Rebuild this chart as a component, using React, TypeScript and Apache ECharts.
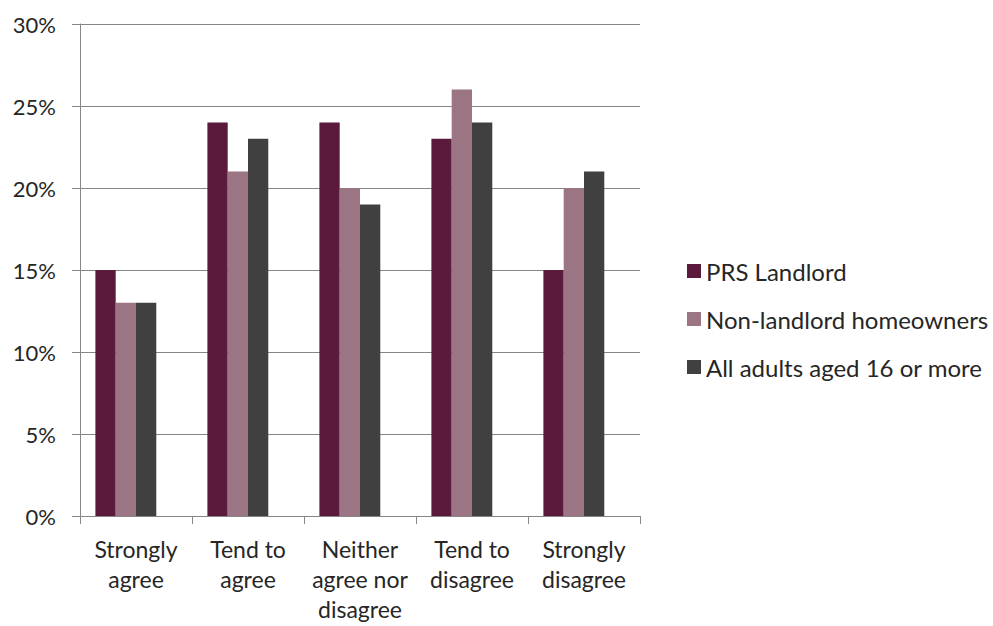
import React, { useEffect, useRef } from "react";
import * as echarts from "echarts";

const categories = ["Strongly\nagree", "Tend to\nagree", "Neither\nagree nor\ndisagree", "Tend to\ndisagree", "Strongly\ndisagree"];
const seriesNames = ["PRS Landlord", "Non-landlord homeowners", "All adults aged 16 or more"];
const prsLandlord = [15, 24, 24, 23, 15];
const nonLandlord = [13, 21, 20, 26, 20];
const allAdults = [13, 23, 19, 24, 21];
const emptySlot = [null, null, null, null, null];
const colors = ["#5B1A3C", "#9C7585", "#404040"];

export default function App() {
  const ref = useRef<HTMLDivElement>(null);
  useEffect(() => {
    const chart = echarts.init(ref.current!, null, { renderer: "svg" });
    const font = "Lato, 'Open Sans', sans-serif";
    const values = [prsLandlord, nonLandlord, allAdults];
    const series: any[] = seriesNames.map((name, i) => ({
      name,
      type: "bar",
      data: values[i],
      barGap: "0%",
      barWidth: 20.3,
      itemStyle: { color: colors[i] },
    }));
    series.push({
      name: "spacer",
      type: "bar",
      data: emptySlot,
      barGap: "0%",
      barWidth: 20.3,
      itemStyle: { color: "transparent" },
    });
    chart.setOption({
      animation: false,
      backgroundColor: "#ffffff",
      textStyle: { fontFamily: font },
      grid: { left: 80, top: 24, width: 560, height: 492, containLabel: false },
      legend: {
        orient: "vertical",
        left: 682,
        top: 254,
        itemWidth: 14,
        itemHeight: 14,
        itemGap: 24,
        icon: "rect",
        textStyle: { fontSize: 24, color: "#262626", fontFamily: font },
        data: seriesNames,
      },
      xAxis: {
        type: "category",
        data: categories,
        axisLine: { lineStyle: { color: "#868686", width: 1 } },
        axisTick: { show: true, length: 8, lineStyle: { color: "#868686" } },
        axisLabel: { fontSize: 23, color: "#262626", lineHeight: 30, margin: 18, interval: 0, fontFamily: font },
      },
      yAxis: {
        type: "value",
        min: 0,
        max: 30,
        interval: 5,
        axisLine: { show: true, lineStyle: { color: "#868686", width: 1 } },
        axisTick: { show: true, length: 8, lineStyle: { color: "#868686" } },
        splitLine: { lineStyle: { color: "#868686", width: 1 } },
        axisLabel: { formatter: "{value}%", fontSize: 22, color: "#262626", margin: 24, fontFamily: font },
      },
      series,
    });
    return () => chart.dispose();
  }, []);
  return <div ref={ref} style={{ position: "absolute", left: 0, top: 0, width: 993, height: 626 }} />;
}
